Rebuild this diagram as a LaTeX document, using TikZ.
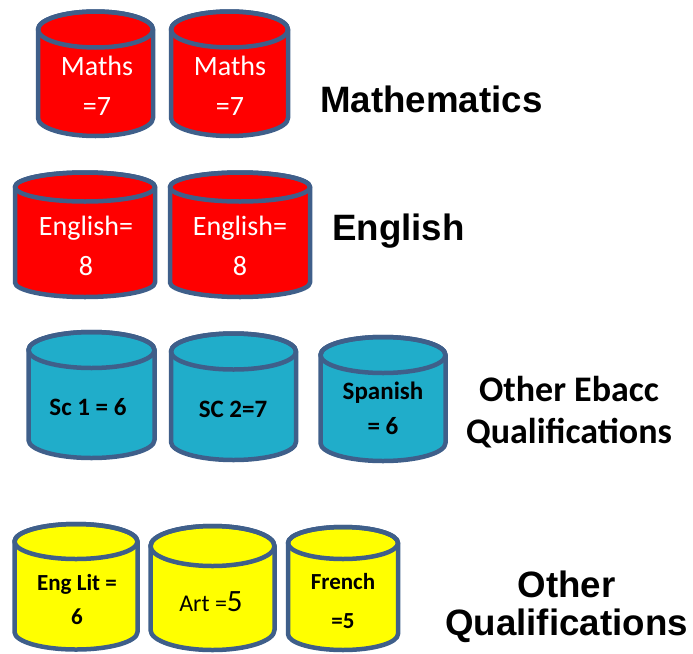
\documentclass[tikz,border=0pt]{standalone}
\usepackage{fontspec}
\setmainfont{Carlito}
\newfontfamily\arialfont{Liberation Sans}
\usepackage{tikz}
\usetikzlibrary{positioning}
\definecolor{tankedge}{RGB}{63,95,138}
\definecolor{tankred}{RGB}{255,0,0}
\definecolor{tankblue}{RGB}{32,173,202}
\definecolor{tankyellow}{RGB}{255,255,0}

% cylinder: centre x, top y, bottom y, x radius, y radius, fill
\newcommand{\tank}[6]{%
  \filldraw[tank, fill=#6] ({#1-#4},{-#2}) -- ({#1-#4},{-#3})
    arc[start angle=180, end angle=360, x radius=#4, y radius=#5]
    -- ({#1+#4},{-#2})
    arc[start angle=0, end angle=180, x radius=#4, y radius=#5] -- cycle;
  \draw[tank] (#1,{-#2}) ellipse [x radius=#4, y radius=#5];
}

\begin{document}
\begin{tikzpicture}[x=1pt, y=1pt,
        tank/.style={draw=tankedge, line width=4.5pt, line join=round},
        redtxt/.style={text=white, align=center, inner sep=0pt, font=\fontsize{28}{40}\selectfont},
        bluetxt/.style={text=black, align=center, inner sep=0pt, font=\bfseries\fontsize{25}{35}\selectfont},
        yeltxt/.style={text=black, align=center, inner sep=0pt, font=\bfseries\fontsize{23}{34}\selectfont},
        heading/.style={text=black, inner sep=0pt, font=\arialfont\bfseries\fontsize{36.7}{38}\selectfont}
    ]
    \useasboundingbox (0,0) rectangle (693,-653);

    % mathematics
    \tank{95.5}{29.5}{118}{57.5}{18}{tankred}
    \tank{229.5}{29.5}{118}{58.5}{18}{tankred}
    \node[redtxt] (maths1) at (97,-86) {Maths\\=7};
    \node[redtxt] (maths2) at (230,-86) {Maths\\=7};
    \node[heading, anchor=base west] (mathslbl) at (320,-112) {Mathematics};

    % english
    \tank{85}{187}{282.5}{70}{14.5}{tankred}
    \tank{240}{187}{282.5}{70}{14.5}{tankred}
    \node[redtxt] (eng1) at (86,-246) {English=\\8};
    \node[redtxt] (eng2) at (240,-246) {English=\\8};
    \node[heading, anchor=base west] (englbl) at (332,-240) {English};

    % other ebacc
    \tank{91.5}{350}{440}{63}{18}{tankblue}
    \tank{233.5}{351.5}{442}{62.5}{18}{tankblue}
    \tank{383}{355}{443}{62.5}{18}{tankblue}
    \node[bluetxt, anchor=base] (sci1) at (88,-415) {Sc 1 = 6};
    \node[bluetxt, anchor=base] (sci2) at (233,-417) {SC 2=7};
    \node[bluetxt] (span) at (383,-408) {Spanish\\= 6};
    \node[align=center, inner sep=0pt, font=\bfseries\fontsize{36}{42}\selectfont] (ebacclbl) at (569,-412) {Other Ebacc\\Qualifications};

    % other qualifications
    \tank{76}{541.5}{632}{61.5}{17.5}{tankyellow}
    \tank{212.5}{546}{630}{62}{20}{tankyellow}
    \tank{343}{543}{634}{55}{16}{tankyellow}
    \node[yeltxt] (englit) at (77,-600) {Eng Lit =\\6};
    \node[anchor=base, inner sep=0pt, font=\fontsize{24}{28}\selectfont] (art) at (211,-611) {Art =\fontsize{31}{32}\selectfont5};
    \node[yeltxt, font=\bfseries\fontsize{23}{39}\selectfont] (french) at (343,-601) {French\\=5};
    \node[heading, align=center] (otherlbl) at (566.5,-607) {Other\\Qualifications};
\end{tikzpicture}
\end{document}
